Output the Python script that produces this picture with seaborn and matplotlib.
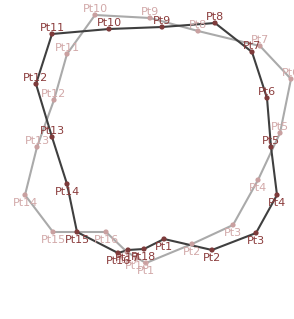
import numpy as np
import seaborn as sns
import matplotlib
matplotlib.use("Agg")
import matplotlib.pyplot as plt

# outline points (pixel-like units, y grows downward)
dark_x = [164, 212, 256, 277, 271, 267, 252, 215, 162, 109, 52, 36, 52, 67, 77, 118, 128, 144]
dark_y = [239, 250, 233, 195, 147, 98, 52, 23, 27, 29, 34, 84, 137, 184, 232, 253, 250, 249]
light_x = [146, 192, 233, 258, 280, 291, 260, 198, 150, 95, 67, 54, 37, 25, 53, 106, 127, 137]
light_y = [263, 244, 225, 180, 133, 79, 46, 31, 18, 15, 54, 100, 147, 195, 232, 232, 252, 258]
dark_labels = ["Pt%d" % (i + 1) for i in range(len(dark_x))]
light_labels = ["Pt%d" % (i + 1) for i in range(len(light_x))]

sns.set_style("white")
plt.rcParams['font.family'] = ['DejaVu Sans']

fig = plt.figure(figsize=(2.94, 3.19), dpi=100)
ax = fig.add_axes([0, 0, 1, 1])


def draw_outline(xs, ys, labels, line_col, dot_col, text_col):
    xc = np.append(xs, xs[0])
    yc = np.append(ys, ys[0])
    ax.plot(xc, yc, color=line_col, lw=1.5, zorder=1)
    sns.scatterplot(x=xs, y=ys, color=dot_col, s=14, edgecolor="none", ax=ax, zorder=2)
    mid = np.mean(ys)
    for x, y, t in zip(xs, ys, labels):
        above = y < mid
        ax.annotate(t, (x, y), xytext=(0, 0.5 if above else -2.5), textcoords="offset points",
                    ha="center", va="bottom" if above else "top",
                    fontsize=8, color=text_col, zorder=3)


draw_outline(light_x, light_y, light_labels, "#aaaaaa", "#c9a0a0", "#d2a9a9")
draw_outline(dark_x, dark_y, dark_labels, "#3f3f3f", "#7d3b3b", "#8b3c3c")

ax.set_xlim(0, 294)
ax.set_ylim(319, 0)
ax.axis("off")

fig.savefig("out.png", dpi=100)
